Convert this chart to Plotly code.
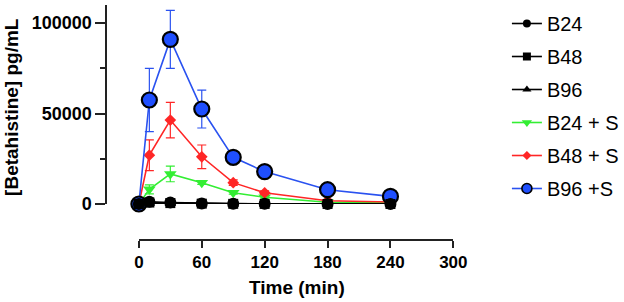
import plotly.graph_objects as go

time_min = [0, 10, 30, 60, 90, 120, 180, 240]

b24 = [0, 1200, 800, 300, 200, 100, 50, 0]
b48 = [0, 800, 500, 200, 100, 50, 30, 0]
b96 = [0, 400, 300, 100, 50, 20, 10, 0]
b24_s = [0, 8100, 16600, 11800, 6200, 3700, 1000, 500]
b24_s_sd = [0, 2500, 4300, 1000, 800, 500, 300, 200]
b48_s = [0, 27000, 46400, 26100, 11800, 6200, 1800, 1100]
b48_s_sd = [0, 8500, 9800, 6500, 1500, 1000, 500, 300]
b96_s = [0, 57500, 91000, 52500, 25800, 17900, 7900, 4200]
b96_s_sd = [0, 17500, 16000, 10500, 3500, 3000, 1200, 800]

x_ticks = [0, 60, 120, 180, 240, 300]
y_ticks = [0, 50000, 100000]

FONT = "Arial, Liberation Sans, sans-serif"
W, H = 624, 302

fig = go.Figure()

def add(name, y, sd, color, symbol, size, leg_size, rank, mline=0, mcolor=None):
    fig.add_trace(go.Scatter(
        x=time_min, y=y, name=name, mode="lines+markers",
        line=dict(color=color, width=1.6),
        marker=dict(symbol=symbol, size=size, color=mcolor or color,
                    line=dict(width=mline, color="black")),
        error_y=dict(type="data", array=sd, visible=sd is not None,
                     color=color, thickness=1.2, width=4.5),
        cliponaxis=False, showlegend=False, legendgroup=name,
    ))
    # legend entry with smaller marker, as in the reference legend
    fig.add_trace(go.Scatter(
        x=[None], y=[None], name=name, mode="lines+markers",
        line=dict(color=color, width=1.6),
        marker=dict(symbol=symbol, size=leg_size, color=mcolor or color,
                    line=dict(width=min(mline, 1.6), color="black")),
        showlegend=True, legendrank=rank, legendgroup=name,
    ))

add("B24 + S", b24_s, b24_s_sd, "#33ee33", "triangle-down", 11, 9, 4)
add("B48 + S", b48_s, b48_s_sd, "#ff2626", "diamond", 9, 7, 5)
add("B96 +S", b96_s, b96_s_sd, "#2a52f0", "circle", 15, 10, 6, mcolor="#1f4fff", mline=2.2)
add("B24", b24, None, "black", "circle", 12, 8, 1)
add("B48", b48, None, "black", "square", 10, 8, 2)
add("B96", b96, None, "black", "triangle-up", 10, 8, 3)

fig.update_layout(
    width=W, height=H,
    margin=dict(l=0, r=0, t=0, b=0),
    paper_bgcolor="white", plot_bgcolor="white",
    font=dict(family=FONT, color="black"),
    xaxis=dict(
        domain=[140 / W, 457 / W], range=[0, 300],
        anchor="free", position=(H - 240) / H,
        tickvals=x_ticks, ticktext=[str(v) for v in x_ticks],
        showline=True, linecolor="#222", linewidth=1.6,
        ticks="outside", ticklen=7, tickwidth=1.6, tickcolor="#222",
        showgrid=False, zeroline=False, automargin=False,
        tickfont=dict(size=17, family=FONT, weight="bold"),
    ),
    yaxis=dict(
        domain=[(H - 204) / H, (H - 5) / H], range=[0, 110000],
        anchor="free", position=107 / W,
        tickvals=y_ticks, ticktext=[str(v) for v in y_ticks],
        showline=True, linecolor="#222", linewidth=1.6,
        ticks="outside", ticklen=10, tickwidth=1.6, tickcolor="#222",
        minor=dict(tickvals=[25000, 75000], ticks="outside", ticklen=5,
                   tickwidth=1.6, tickcolor="#222"),
        showgrid=False, zeroline=False, automargin=False,
        tickfont=dict(size=18, family=FONT, weight="bold"),
    ),
    legend=dict(
        x=511 / W, y=1 - 4 / H, xanchor="left", yanchor="top",
        font=dict(size=20, family=FONT),
        bgcolor="rgba(0,0,0,0)", itemsizing="trace",
        traceorder="grouped", tracegroupgap=4,
    ),
    annotations=[
        dict(text="<b>Time (min)</b>", x=299 / W, y=1 - 287 / H,
             xref="paper", yref="paper", xanchor="center", yanchor="middle",
             showarrow=False, font=dict(size=19, family=FONT)),
        dict(text="<b>[Betahistine] pg/mL</b>", x=12 / W, y=1 - 107 / H,
             xref="paper", yref="paper", xanchor="center", yanchor="middle",
             showarrow=False, textangle=-90,
             font=dict(size=19, family=FONT)),
    ],
)

fig.write_html("out.html", config={"displayModeBar": False},
               post_script="document.body.style.margin='0px';")
